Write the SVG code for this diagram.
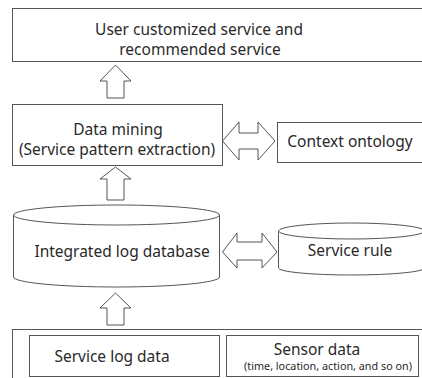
<svg xmlns="http://www.w3.org/2000/svg" width="422" height="378" viewBox="0 0 422 378">
<style>
.b{fill:#fff;stroke:#555;stroke-width:1}
.a{fill:#fff;stroke:#555;stroke-width:1;stroke-linejoin:miter}
text{font-family:"Noto Sans","Open Sans",sans-serif;fill:#2a2a2a;text-anchor:middle}
.t{font-size:15.5px}
.s{font-size:10.8px}
</style>
<rect width="422" height="378" fill="#fff"/>
<g id="top">
<rect class="b" x="12.5" y="8.5" width="420" height="53"/>
<text class="t" x="199" y="35">User customized service and</text>
<text class="t" x="200" y="55">recommended service</text>
</g>
<g id="mining">
<rect class="b" x="12.5" y="104.5" width="210" height="61"/>
<text class="t" x="118" y="135">Data mining</text>
<text class="t" x="117" y="155">(Service pattern extraction)</text>
</g>
<g id="ontology">
<rect class="b" x="277.5" y="122.5" width="150" height="40"/>
<text class="t" x="350" y="147">Context ontology</text>
</g>
<g id="logdb">
<path class="b" d="M13.5,215 V277 A103,10 0 0 0 219.5,277 V215"/>
<ellipse class="b" cx="116.5" cy="215" rx="103" ry="10"/>
<text class="t" x="122" y="257">Integrated log database</text>
</g>
<g id="rule">
<path class="b" d="M278.5,231 V268 A73,7 0 0 0 424.5,268 V231"/>
<ellipse class="b" cx="351.5" cy="231" rx="73" ry="8"/>
<text class="t" x="350" y="256">Service rule</text>
</g>
<g id="sources">
<rect class="b" x="12.5" y="329.5" width="420" height="60"/>
<g id="servicelog">
<rect class="b" x="29.5" y="335.5" width="190" height="41"/>
<text class="t" x="112" y="362">Service log data</text>
</g>
<g id="sensor">
<rect class="b" x="226.5" y="335.5" width="192" height="41"/>
<text class="t" x="317" y="355">Sensor data</text>
<text class="s" x="328" y="370">(time, location, action, and so on)</text>
</g>
</g>
<g id="connectors">
<path class="a" d="M115.5,65 L131,81 H124 V98 H107 V81 H100 Z"/>
<path class="a" d="M115.5,167 L131,179 H124 V200 H107 V179 H100 Z"/>
<path class="a" d="M115.5,293 L131,308 H124 V325 H107 V308 H100 Z"/>
<path class="a" d="M222.5,141 L239,122 V133 H258 V122 L275,141 L258,160 V149 H239 V160 Z"/>
<path class="a" d="M222.5,252 L237,233 V242 H262 V233 L277,252 L262,268 V260 H237 V268 Z"/>
</g>
</svg>
